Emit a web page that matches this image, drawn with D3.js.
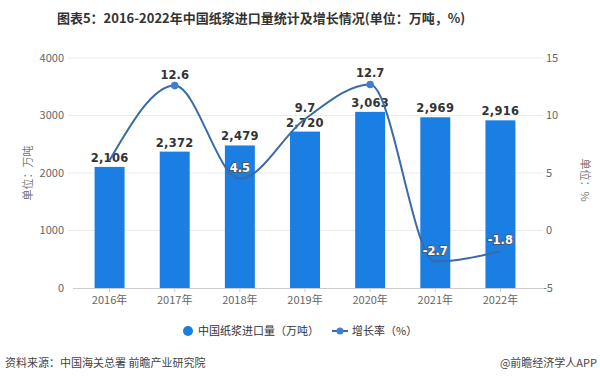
<!DOCTYPE html>
<html><head><meta charset="utf-8">
<script src="https://cdn.jsdelivr.net/npm/d3@7/dist/d3.min.js"></script>
<style>
body{margin:0;background:#fff;}
svg{display:block;font-family:"Noto Sans CJK SC","Noto Sans",sans-serif;}
</style></head>
<body><svg id="c" width="600" height="382"></svg>
<script>
const years = ["2016年","2017年","2018年","2019年","2020年","2021年","2022年"];
const imports = [2106,2372,2479,2720,3063,2969,2916];
const growth = [6.1,12.6,4.5,9.7,12.7,-2.7,-1.8];
const visibleDots = ["2017年","2020年"];
const leftTicks = [0,1000,2000,3000,4000];
const rightTicks = [-5,0,5,10,15];

const svg = d3.select("#c");
const barColor = "#1a7ee2", lineColor = "#3b6aa8";

const x = d3.scaleBand().domain(years).range([77,533]).paddingInner(0.54).paddingOuter(0.27);
const yL = d3.scaleLinear().domain([0,4000]).range([288,58]);
const yR = d3.scaleLinear().domain([-5,15]).range([288,58]);

// title
svg.append("text").attr("x",261).attr("y",23).attr("text-anchor","middle")
  .attr("font-size",13).attr("font-weight","bold").attr("fill","#333")
  .text("图表5：2016-2022年中国纸浆进口量统计及增长情况(单位：万吨，%)");

// grid
svg.append("g").selectAll("line").data(leftTicks.slice(1)).join("line")
  .attr("x1",68).attr("x2",543).attr("y1",d=>yL(d)).attr("y2",d=>yL(d))
  .attr("stroke","#ebebeb").attr("stroke-width",1);

// left axis labels
svg.append("g").selectAll("text").data(leftTicks).join("text")
  .attr("x",64).attr("y",d=>yL(d)).attr("dy","0.35em").attr("text-anchor","end")
  .attr("font-size",11).attr("fill","#666").text(d=>d);
// right axis labels
svg.append("g").selectAll("text").data(rightTicks).join("text")
  .attr("x",d=>d<0?543:546).attr("y",d=>yR(d)).attr("dy","0.35em").attr("text-anchor","start")
  .attr("font-size",11).attr("fill","#666").text(d=>d);

// axis titles
svg.append("text").attr("transform","translate(28,173) rotate(-90)").attr("text-anchor","middle")
  .attr("dy","0.35em").attr("font-size",11).attr("fill","#777").text("单位：万吨");
svg.append("text").attr("transform","translate(585,180) rotate(90)").attr("text-anchor","middle")
  .attr("dy","0.35em").attr("font-size",11).attr("fill","#777").text("单位：%");

// bars
svg.append("g").selectAll("rect").data(imports).join("rect")
  .attr("x",(d,i)=>x(years[i])).attr("width",x.bandwidth())
  .attr("y",d=>yL(d)).attr("height",d=>yL(0)-yL(d)).attr("fill",barColor);

// x axis
const xAxis = d3.axisBottom(x).tickSize(4).tickPadding(4);
const gx = svg.append("g").attr("transform","translate(0,288)").call(xAxis);
gx.select(".domain").attr("d","M73,0.5H543").attr("stroke","#ccc");
gx.selectAll(".tick line").attr("stroke","#ccc");
gx.selectAll(".tick text").attr("font-size",11).attr("fill","#666")
  .attr("font-family","\"Noto Sans CJK SC\",sans-serif");

// bar labels
svg.append("g").selectAll("text").data(imports).join("text")
  .attr("x",(d,i)=>x(years[i])+x.bandwidth()/2).attr("y",d=>yL(d)-5)
  .attr("text-anchor","middle").attr("font-size",11.5).attr("font-weight","bold")
  .attr("fill","#333").attr("font-family","\"DejaVu Sans\",sans-serif").attr("letter-spacing",0.3)
  .text(d=>d3.format(",")(d));

// line
const cx = i => x(years[i]) + x.bandwidth()/2;
const line = d3.line().x((d,i)=>cx(i)).y(d=>yR(d)).curve(d3.curveMonotoneX);
svg.append("path").datum(growth).attr("d",line).attr("fill","none")
  .attr("stroke",lineColor).attr("stroke-width",2);
svg.append("g").selectAll("circle").data(growth).join("circle")
  .attr("cx",(d,i)=>cx(i)).attr("cy",d=>yR(d)).attr("r",3.8).attr("fill","#3f7fd0")
  .attr("display",(d,i)=>visibleDots.includes(years[i])?null:"none");

// line labels
svg.append("g").selectAll("text").data(growth).join("text")
  .attr("x",(d,i)=>cx(i)).attr("y",d=>yR(d)-7)
  .attr("text-anchor","middle").attr("font-size",11.5).attr("font-weight","bold")
  .attr("font-family","\"DejaVu Sans\",sans-serif")
  .each(function(d,i){
    const inside = yR(d)-11 > yL(imports[i]);
    d3.select(this).attr("fill",inside?"#fff":"#333")
      .attr("stroke",inside?"#555":"none").attr("stroke-width",inside?1.6:0)
      .attr("paint-order","stroke");
  })
  .text((d,i)=> i===0 ? "" : d);

// legend
const lg = svg.append("g");
lg.append("circle").attr("cx",188).attr("cy",331).attr("r",5).attr("fill",barColor);
lg.append("text").attr("x",198).attr("y",331).attr("dy","0.35em").attr("font-size",11)
  .attr("fill","#333").text("中国纸浆进口量（万吨）");
lg.append("line").attr("x1",332).attr("x2",348).attr("y1",331).attr("y2",331)
  .attr("stroke",lineColor).attr("stroke-width",2);
lg.append("circle").attr("cx",340).attr("cy",331).attr("r",3.5).attr("fill","#3f7fd0");
lg.append("text").attr("x",352).attr("y",331).attr("dy","0.35em").attr("font-size",11)
  .attr("fill","#333").text("增长率（%）");

// footer
svg.append("text").attr("x",5).attr("y",363).attr("dy","0.35em").attr("font-size",11)
  .attr("fill","#444").text("资料来源：中国海关总署 前瞻产业研究院");
svg.append("text").attr("x",597).attr("y",363).attr("dy","0.35em").attr("text-anchor","end")
  .attr("font-size",11).attr("fill","#444").text("@前瞻经济学人APP");
</script></body></html>
